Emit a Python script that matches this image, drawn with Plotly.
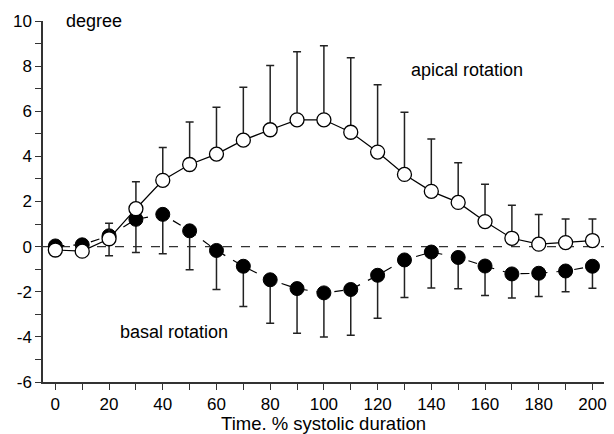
import plotly.graph_objects as go

time_pct = [0, 10, 20, 30, 40, 50, 60, 70, 80, 90, 100, 110, 120, 130, 140, 150, 160, 170, 180, 190, 200]

apical_mean = [-0.15, -0.2, 0.35, 1.68, 2.94, 3.64, 4.1, 4.72, 5.18, 5.62, 5.62, 5.07, 4.19, 3.2, 2.45, 1.96, 1.11, 0.37, 0.11, 0.18, 0.27]
apical_sd = [0.0, 0.0, 0.69, 1.2, 1.45, 1.88, 2.08, 2.34, 2.85, 3.02, 3.28, 3.3, 2.99, 2.76, 2.32, 1.76, 1.65, 1.46, 1.31, 1.04, 0.95]

basal_mean = [0.03, 0.08, 0.48, 1.21, 1.43, 0.7, -0.17, -0.87, -1.47, -1.86, -2.05, -1.9, -1.27, -0.59, -0.24, -0.48, -0.86, -1.21, -1.18, -1.08, -0.87]
basal_sd = [0.0, 0.0, 0.88, 1.47, 1.75, 1.72, 1.73, 1.78, 1.93, 1.98, 1.96, 2.03, 1.91, 1.66, 1.59, 1.39, 1.31, 1.07, 1.03, 0.92, 0.97]

x_tickvals = [0, 20, 40, 60, 80, 100, 120, 140, 160, 180, 200]
x_ticktext = ["0", "20", "40", "60", "80", "100", "120", "140", "160", "180", "200"]
y_tickvals = [-6, -4, -2, 0, 2, 4, 6, 8, 10]
y_ticktext = ["-6", "-4", "-2", "0", "2", "4", "6", "8", "10"]

FONT = "Liberation Sans, Arial, sans-serif"
zeros = [0] * len(time_pct)

fig = go.Figure()

fig.add_trace(go.Scatter(
    x=time_pct, y=basal_mean, mode="lines+markers",
    line=dict(color="black", width=1.2, dash="dash"),
    marker=dict(symbol="circle", size=14, color="black", line=dict(color="black", width=1)),
    error_y=dict(type="data", array=zeros, arrayminus=basal_sd, symmetric=False,
                 color="#222", thickness=1.5, width=4),
    showlegend=False, cliponaxis=False,
))

fig.add_trace(go.Scatter(
    x=time_pct, y=apical_mean, mode="lines+markers",
    line=dict(color="black", width=1.2),
    marker=dict(symbol="circle", size=14, color="white", line=dict(color="black", width=1.3)),
    error_y=dict(type="data", array=apical_sd, arrayminus=zeros, symmetric=False,
                 color="#222", thickness=1.5, width=4),
    showlegend=False, cliponaxis=False,
))

fig.add_shape(type="line", xref="paper", yref="y", x0=0, x1=1, y0=0, y1=0,
              line=dict(color="#333", width=1.2, dash="dash"), layer="below")

fig.add_annotation(text="degree", x=0.038, y=1.0, xref="paper", yref="paper", showarrow=False,
                   font=dict(family=FONT, size=18, color="black"), xanchor="left", yanchor="middle")
fig.add_annotation(text="apical rotation", x=175, y=7.85, xref="x", yref="y", showarrow=False,
                   font=dict(family=FONT, size=18, color="black"), xanchor="right")
fig.add_annotation(text="basal rotation", x=23.5, y=-3.8, xref="x", yref="y", showarrow=False,
                   font=dict(family=FONT, size=18, color="black"), xanchor="left")

fig.update_layout(
    width=614, height=434,
    margin=dict(l=43, r=7, t=21, b=50),
    paper_bgcolor="white", plot_bgcolor="white",
    font=dict(family=FONT, size=17, color="black"),
    xaxis=dict(
        range=[-4.6, 204.3], tickmode="array", tickvals=x_tickvals, ticktext=x_ticktext,
        tickfont=dict(family=FONT, size=17, color="black"),
        ticks="outside", ticklen=6, tickwidth=1.2, tickcolor="#333",
        minor=dict(dtick=10, tick0=0, ticks="outside", ticklen=6, tickwidth=1.2, tickcolor="#333"),
        showline=True, linecolor="#333", linewidth=1.5, showgrid=False, zeroline=False,
        title=dict(text="Time. % systolic duration", font=dict(family=FONT, size=18.5, color="black"), standoff=0),
        ticklabelstandoff=0,
    ),
    yaxis=dict(
        range=[-6, 10], tickmode="array", tickvals=y_tickvals, ticktext=y_ticktext,
        tickfont=dict(family=FONT, size=17, color="black"),
        ticks="outside", ticklen=6, tickwidth=1.2, tickcolor="#333",
        minor=dict(dtick=1, tick0=0, ticks="outside", ticklen=6, tickwidth=1.2, tickcolor="#333"),
        showline=True, linecolor="#333", linewidth=1.5, showgrid=False, zeroline=False,
        ticklabelstandoff=0,
    ),
)

fig.write_html("out.html")
